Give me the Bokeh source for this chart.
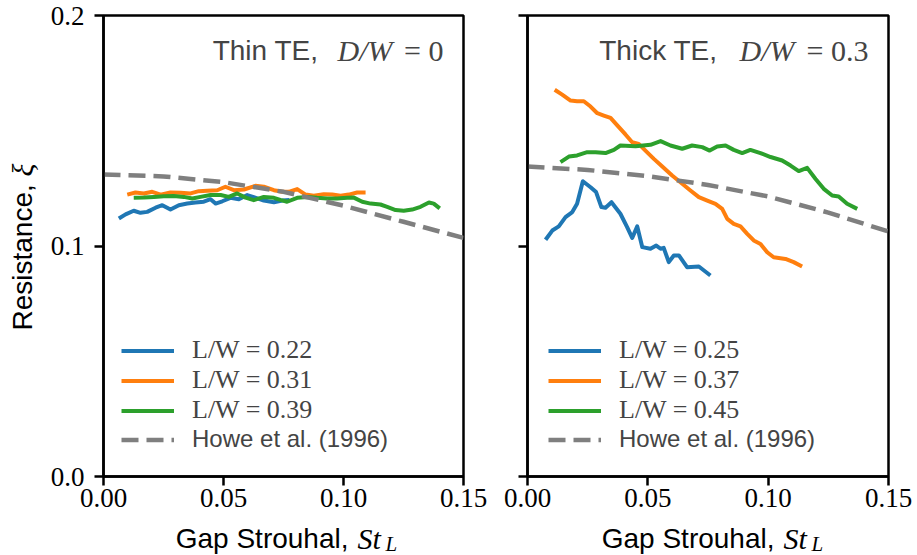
import math
from bokeh.plotting import figure
from bokeh.layouts import row, column
from bokeh.models import (Range1d, FixedTicker, NumeralTickFormatter, Label,
                          Legend, LegendItem, CustomJSTickFormatter)
from bokeh.core.properties import value
from bokeh.embed import file_html
from bokeh.resources import INLINE

# ---------------- data ----------------
# Thin trailing edge, D/W = 0
thin_022_st = [0.0064, 0.0092, 0.0126, 0.0154, 0.0182, 0.0217, 0.0245, 0.0279, 0.0314,
               0.0349, 0.0383, 0.0418, 0.0446, 0.0467, 0.0495, 0.0529, 0.0564, 0.0599,
               0.0626, 0.0668, 0.0710, 0.0745, 0.0775]
thin_022_xi = [0.1119, 0.1137, 0.1153, 0.1144, 0.1148, 0.1166, 0.1177, 0.1158, 0.1177,
               0.1184, 0.1189, 0.1192, 0.1203, 0.1184, 0.1194, 0.1209, 0.1203, 0.1221,
               0.1212, 0.1197, 0.1190, 0.1197, 0.1200]

thin_031_st = [0.0099, 0.0133, 0.0168, 0.0203, 0.0238, 0.0279, 0.0321, 0.0363, 0.0397,
               0.0432, 0.0474, 0.0508, 0.0543, 0.0585, 0.0633, 0.0668, 0.0710, 0.0745,
               0.0772, 0.0807, 0.0842, 0.0876, 0.0918, 0.0953, 0.0988, 0.1022, 0.1057,
               0.1092]
thin_031_xi = [0.1223, 0.1232, 0.1228, 0.1235, 0.1223, 0.1232, 0.1231, 0.1228, 0.1238,
               0.1240, 0.1242, 0.1257, 0.1242, 0.1245, 0.1261, 0.1257, 0.1242, 0.1235,
               0.1235, 0.1247, 0.1223, 0.1218, 0.1225, 0.1223, 0.1218, 0.1223, 0.1232,
               0.1232]

thin_039_st = [0.0126, 0.0168, 0.0210, 0.0251, 0.0293, 0.0335, 0.0370, 0.0404, 0.0446,
               0.0488, 0.0522, 0.0557, 0.0592, 0.0626, 0.0668, 0.0710, 0.0740, 0.0765,
               0.0807, 0.0849, 0.0890, 0.0932, 0.0974, 0.1015, 0.1043, 0.1078, 0.1113,
               0.1154, 0.1182, 0.1217, 0.1251, 0.1286, 0.1321, 0.1356, 0.1376, 0.1401]
thin_039_xi = [0.1209, 0.1210, 0.1213, 0.1216, 0.1217, 0.1213, 0.1206, 0.1213, 0.1221,
               0.1221, 0.1213, 0.1228, 0.1210, 0.1199, 0.1213, 0.1209, 0.1199, 0.1192,
               0.1209, 0.1213, 0.1209, 0.1206, 0.1206, 0.1209, 0.1210, 0.1192, 0.1184,
               0.1180, 0.1170, 0.1156, 0.1153, 0.1158, 0.1170, 0.1189, 0.1184, 0.1163]

# Thick trailing edge, D/W = 0.3
thick_025_st = [0.0075, 0.0103, 0.0130, 0.0158, 0.0186, 0.0206, 0.0230, 0.0262, 0.0285,
                0.0307, 0.0324, 0.0349, 0.0386, 0.0414, 0.0435, 0.0456, 0.0477, 0.0511,
                0.0535, 0.0553, 0.0566, 0.0587, 0.0608, 0.0629, 0.0663, 0.0712, 0.0760]
thick_025_xi = [0.1027, 0.1067, 0.1085, 0.1125, 0.1147, 0.1183, 0.1281, 0.1255, 0.1234,
                0.1169, 0.1166, 0.1190, 0.1140, 0.1082, 0.1035, 0.1085, 0.0995, 0.0988,
                0.1002, 0.0988, 0.0992, 0.0930, 0.0959, 0.0959, 0.0908, 0.0911, 0.0872]

thick_037_st = [0.0113, 0.0144, 0.0179, 0.0206, 0.0234, 0.0262, 0.0290, 0.0317, 0.0345,
                0.0373, 0.0407, 0.0435, 0.0462, 0.0490, 0.0525, 0.0560, 0.0601, 0.0643,
                0.0677, 0.0712, 0.0747, 0.0781, 0.0809, 0.0830, 0.0857, 0.0885, 0.0913,
                0.0940, 0.0968, 0.0996, 0.1023, 0.1072, 0.1106, 0.1141]
thick_037_xi = [0.1678, 0.1657, 0.1631, 0.1628, 0.1628, 0.1605, 0.1576, 0.1566, 0.1556,
                0.1523, 0.1484, 0.1450, 0.1443, 0.1414, 0.1378, 0.1345, 0.1306, 0.1270,
                0.1241, 0.1212, 0.1197, 0.1183, 0.1161, 0.1118, 0.1096, 0.1085, 0.1053,
                0.1024, 0.1009, 0.0973, 0.0951, 0.0944, 0.0930, 0.0911]

thick_045_st = [0.0137, 0.0172, 0.0206, 0.0248, 0.0283, 0.0324, 0.0359, 0.0386, 0.0449,
                0.0511, 0.0553, 0.0594, 0.0643, 0.0684, 0.0726, 0.0757, 0.0788, 0.0823,
                0.0857, 0.0892, 0.0926, 0.0968, 0.1010, 0.1058, 0.1093, 0.1127, 0.1162,
                0.1197, 0.1231, 0.1266, 0.1293, 0.1328, 0.1370]
thick_045_xi = [0.1364, 0.1388, 0.1393, 0.1407, 0.1407, 0.1403, 0.1417, 0.1436, 0.1433,
                0.1439, 0.1455, 0.1436, 0.1422, 0.1436, 0.1429, 0.1414, 0.1432, 0.1436,
                0.1417, 0.1403, 0.1417, 0.1403, 0.1386, 0.1371, 0.1349, 0.1325, 0.1339,
                0.1291, 0.1248, 0.1219, 0.1215, 0.1183, 0.1161]

# Howe et al. (1996) model curves
howe_st = [0.0, 0.025, 0.05, 0.075, 0.10, 0.125, 0.15]
howe_thin_xi = [0.1310, 0.1302, 0.1277, 0.1235, 0.1175, 0.1105, 0.1035]
howe_thick_xi = [0.1345, 0.1330, 0.1303, 0.1265, 0.1215, 0.1145, 0.1063]

x_ticks = [0.0, 0.05, 0.10, 0.15]
y_ticks = [0.0, 0.1, 0.2]

thin_labels = ["L/W = 0.22", "L/W = 0.31", "L/W = 0.39"]
thick_labels = ["L/W = 0.25", "L/W = 0.37", "L/W = 0.45"]
howe_label = "Howe et al. (1996)"

COLORS = ["#1f77b4", "#ff7f0e", "#2ca02c"]
GRAY = "#7f7f7f"
SANS = "Liberation Sans"
SERIF = "Liberation Serif"

STRIP_W = 45        # left strip holding the y-axis title
MAIN_H = 520        # height of the two panels
BOTTOM_H = 555 - MAIN_H


def make_panel(width, border_left, border_right, show_ylabels):
    p = figure(width=width, height=MAIN_H, output_backend="svg", toolbar_location=None,
               x_range=Range1d(0, 0.15), y_range=Range1d(0, 0.2),
               min_border_left=border_left, min_border_right=border_right,
               min_border_top=15, min_border_bottom=MAIN_H - 15 - 461)
    p.grid.visible = False
    p.outline_line_color = "black"
    p.outline_line_width = 2.5
    p.outline_line_alpha = 1.0
    for ax in (p.xaxis, p.yaxis):
        ax.axis_line_width = 2.5
        ax.axis_line_color = "black"
        ax.major_tick_line_width = 2.5
        ax.major_tick_line_color = "black"
        ax.major_tick_out = 9
        ax.major_tick_in = 0
        ax.minor_tick_line_color = None
        ax.major_label_text_font = SERIF
        ax.major_label_text_font_size = "27px"
        ax.major_label_text_color = "black"
    p.xaxis.major_label_standoff = 3
    p.yaxis.major_label_standoff = 10
    p.xaxis.ticker = FixedTicker(ticks=x_ticks)
    p.xaxis.formatter = NumeralTickFormatter(format="0.00")
    p.yaxis.ticker = FixedTicker(ticks=y_ticks)
    if show_ylabels:
        p.yaxis.formatter = NumeralTickFormatter(format="0.0")
    else:
        p.yaxis.formatter = CustomJSTickFormatter(code="return ''")
    return p


def add_title(p, head, head_right, dw_right, value_text, value_right):
    y = 426
    p.add_layout(Label(x=value_right, y=y, x_units="screen", y_units="screen",
                       text=value_text, text_font=SERIF, text_font_size="30px",
                       text_align="right", text_baseline="alphabetic"))
    p.add_layout(Label(x=dw_right, y=y, x_units="screen", y_units="screen",
                       text="D/W", text_font=SERIF, text_font_style="italic",
                       text_font_size="30px", text_align="right",
                       text_baseline="alphabetic"))
    p.add_layout(Label(x=head_right, y=y, x_units="screen", y_units="screen",
                       text=head, text_font=SANS, text_font_size="28px",
                       text_align="right", text_baseline="alphabetic"))


def add_series(p, series, labels, howe_xi, legend_x):
    items = []
    for (st, xi), lab, col in zip(series, labels, COLORS):
        r = p.line(st, xi, line_color=col, line_width=4, line_join="round")
        items.append(LegendItem(label=lab, renderers=[r]))
    rh = p.line(howe_st, howe_xi, line_color=GRAY, line_width=4.5,
                line_dash="17 8")
    common = dict(glyph_width=53, glyph_height=27, label_height=27,
                  padding=0, margin=0, label_standoff=18,
                  background_fill_alpha=0, border_line_alpha=0)
    leg1 = Legend(items=items, location=(legend_x, 51), label_text_font=SERIF,
                  label_text_font_size="26px", spacing=-1, **common)
    leg2 = Legend(items=[LegendItem(label=howe_label, renderers=[rh])],
                  location=(legend_x, 23), label_text_font=SANS,
                  label_text_font_size="24px", spacing=0, **common)
    p.add_layout(leg1)
    p.add_layout(leg2)


def text_strip(width, height):
    s = figure(width=width, height=height, output_backend="svg", toolbar_location=None,
               x_range=Range1d(0, width), y_range=Range1d(0, height),
               x_axis_type=None, y_axis_type=None,
               min_border_left=0, min_border_right=0, min_border_top=0,
               min_border_bottom=0)
    s.grid.visible = False
    s.outline_line_color = None
    return s


# left panel: thin trailing edge
p1 = make_panel(490 - STRIP_W, 103 - STRIP_W, 27, True)
add_series(p1, [(thin_022_st, thin_022_xi), (thin_031_st, thin_031_xi),
                (thin_039_st, thin_039_xi)], thin_labels, howe_thin_xi, 18)
add_title(p1, "Thin TE,", 215, 289, "= 0", 340)

# right panel: thick trailing edge
p2 = make_panel(427, 37, 29, False)
add_series(p2, [(thick_025_st, thick_025_xi), (thick_037_st, thick_037_xi),
                (thick_045_st, thick_045_xi)], thick_labels, howe_thick_xi, 21)
add_title(p2, "Thick TE,", 190, 267, "= 0.3", 341)

# y-axis title, drawn in a strip left of the panels
ystrip = text_strip(STRIP_W, 555)
ystrip.text(x=[22], y=[555 - 330], text=["Resistance,"], angle=math.pi / 2,
            text_font=value(SANS), text_font_size="28px",
            text_align="left", text_baseline="alphabetic", text_color="black")
ystrip.text(x=[22], y=[555 - 176], text=["\u03be"], angle=math.pi / 2,
            text_font=value(SERIF), text_font_style="italic", text_font_size="30px",
            text_align="left", text_baseline="alphabetic", text_color="black")

# x-axis titles, drawn in a strip under the panels
xstrip = text_strip(917 - STRIP_W, BOTTOM_H)
base = 17
for comma_x, st_x, sub_x in [(348, 357, 385), (774, 783, 811)]:
    xstrip.text(x=[comma_x - STRIP_W], y=[base], text=["Gap Strouhal,"],
                text_font=value(SANS), text_font_size="28px", text_align="right",
                text_baseline="alphabetic", text_color="black")
    xstrip.text(x=[st_x - STRIP_W], y=[base], text=["St"],
                text_font=value(SERIF), text_font_style="italic",
                text_font_size="30px", text_align="left",
                text_baseline="alphabetic", text_color="black")
    xstrip.text(x=[sub_x - STRIP_W], y=[base - 5], text=["L"],
                text_font=value(SERIF), text_font_style="italic",
                text_font_size="21px", text_align="left",
                text_baseline="alphabetic", text_color="black")

layout = row(ystrip, column(row(p1, p2), xstrip))
open("out.html", "w").write(file_html(layout, INLINE))
